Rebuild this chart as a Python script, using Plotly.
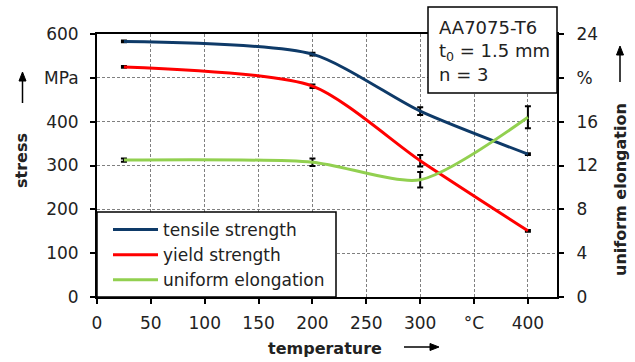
import plotly.graph_objects as go

# ---- data ----
temperature = [25, 200, 300, 400]
tensile_strength = [583, 554, 424, 326]
tensile_err = [2, 3, 9, 2]
yield_strength = [525, 481, 311, 151]
yield_err = [2, 4, 13, 2]
uniform_elongation = [12.5, 12.3, 10.7, 16.4]
elongation_err = [0.15, 0.35, 0.7, 1.0]

x_tickvals = [0, 50, 100, 150, 200, 250, 300, 350, 400]
x_ticktext = ["0", "50", "100", "150", "200", "250", "300", "°C", "400"]
y_tickvals = [0, 100, 200, 300, 400, 500, 600]
y_ticktext = ["0", "100", "200", "300", "400", "MPa", "600"]
y2_tickvals = [0, 4, 8, 12, 16, 20, 24]
y2_ticktext = ["0", "4", "8", "12", "16", "%", "24"]

FONT = "DejaVu Sans"
W, H = 635, 362
PL, PR, PT, PB = 97, 557, 34, 297  # plot area in px


def px(x):
    return (x - PL) / (PR - PL)


def py(y):
    return (PB - y) / (PB - PT)


navy = "#0e3a68"
red = "#ff0000"
green = "#92d050"
SMOOTH = 0.7

fig = go.Figure()


def err(arr):
    return dict(type="data", array=arr, color="black", thickness=2, width=3, visible=True)


fig.add_trace(go.Scatter(x=temperature, y=tensile_strength, name="tensile strength",
                         mode="lines", line=dict(color=navy, width=3, shape="spline", smoothing=SMOOTH),
                         error_y=err(tensile_err)))
fig.add_trace(go.Scatter(x=temperature, y=yield_strength, name="yield strength",
                         mode="lines", line=dict(color=red, width=3, shape="spline", smoothing=SMOOTH),
                         error_y=err(yield_err)))
fig.add_trace(go.Scatter(x=temperature, y=uniform_elongation, name="uniform elongation",
                         mode="lines", line=dict(color=green, width=3, shape="spline", smoothing=SMOOTH),
                         error_y=err(elongation_err), yaxis="y2"))

axis_common = dict(showline=True, linecolor="black", linewidth=2, ticks="outside",
                   ticklen=5, tickwidth=1.5, tickcolor="black", zeroline=False,
                   tickfont=dict(family=FONT, size=17, color="#222"))

fig.update_layout(
    width=W, height=H, autosize=False,
    margin=dict(l=PL, r=W - PR, t=PT, b=H - PB, pad=0),
    paper_bgcolor="white", plot_bgcolor="white",
    font=dict(family=FONT, size=17, color="#222"),
    xaxis=dict(range=[0, 427], tickvals=x_tickvals, ticktext=x_ticktext, mirror=True,
               showgrid=True, gridcolor="#808080", griddash="3px,2px", gridwidth=1,
               ticklabelstandoff=5, **axis_common),
    yaxis=dict(range=[0, 600], tickvals=y_tickvals, ticktext=y_ticktext, mirror=False,
               showgrid=True, gridcolor="#808080", griddash="3px,2px", gridwidth=1,
               ticklabelstandoff=8, **axis_common),
    yaxis2=dict(range=[0, 24], tickvals=y2_tickvals, ticktext=y2_ticktext, overlaying="y",
                side="right", showgrid=False, ticklabelstandoff=9, **axis_common),
    legend=dict(x=px(108), y=py(298), xanchor="left", yanchor="bottom",
                bgcolor="rgba(0,0,0,0)", borderwidth=0,
                font=dict(family=FONT, size=17, color="#222"), itemwidth=45,
                tracegroupgap=0),
    showlegend=True,
)


def arrow_shapes(x0, y0, x1, y1):
    """Arrow from (x0,y0) to tip (x1,y1) in px; returns shaft + head shapes (paper coords)."""
    hl, hw = 9, 3.5
    if x0 == x1:  # vertical
        d = 1 if y1 > y0 else -1
        base = y1 - d * hl
        shaft = dict(type="line", xref="paper", yref="paper", x0=px(x0), y0=py(y0),
                     x1=px(x1), y1=py(base), line=dict(color="black", width=1.5))
        path = "M {} {} L {} {} L {} {} Z".format(px(x1), py(y1), px(x1 - hw), py(base),
                                                   px(x1 + hw), py(base))
    else:
        d = 1 if x1 > x0 else -1
        base = x1 - d * hl
        shaft = dict(type="line", xref="paper", yref="paper", x0=px(x0), y0=py(y0),
                     x1=px(base), y1=py(y1), line=dict(color="black", width=1.5))
        path = "M {} {} L {} {} L {} {} Z".format(px(x1), py(y1), px(base), py(y1 - hw),
                                                   px(base), py(y1 + hw))
    head = dict(type="path", xref="paper", yref="paper", path=path, fillcolor="black",
                line=dict(color="black", width=1))
    return [shaft, head]


shapes = [
    # legend frame
    dict(type="rect", xref="paper", yref="paper", x0=0, x1=px(336), y0=0, y1=py(212),
         line=dict(color="black", width=1.5), fillcolor="white", layer="above"),
    # info box
    dict(type="rect", xref="paper", yref="paper", x0=px(428), x1=px(557), y0=py(93), y1=py(7),
         line=dict(color="black", width=1.5), fillcolor="white", layer="above"),
]
shapes += arrow_shapes(22.5, 103, 22.5, 72)
shapes += arrow_shapes(620, 82, 620, 46)
shapes += arrow_shapes(404, 347, 439, 347)
fig.update_layout(shapes=shapes)

annotations = [
    dict(text="AA7075-T6<br>t<sub>0</sub> = 1.5 mm<br>n = 3", xref="paper", yref="paper",
         x=px(437), y=py(51), xanchor="left", yanchor="middle", align="left",
         showarrow=False, font=dict(family=FONT, size=18, color="#222")),
    dict(text="<b>stress</b>", xref="paper", yref="paper", x=px(21), y=py(161),
         xanchor="center", yanchor="middle",
         textangle=-90, showarrow=False, font=dict(family=FONT, size=16, color="#222")),
    dict(text="<b>uniform elongation</b>", xref="paper", yref="paper", x=px(620), y=py(190),
         xanchor="center", yanchor="middle",
         textangle=-90, showarrow=False, font=dict(family=FONT, size=16, color="#222")),
    dict(text="<b>temperature</b>", xref="paper", yref="paper", x=px(324.5), y=py(348),
         xanchor="center", yanchor="middle",
         showarrow=False, font=dict(family=FONT, size=16, color="#222")),
]
fig.update_layout(annotations=annotations)

fig.write_html("out.html")
